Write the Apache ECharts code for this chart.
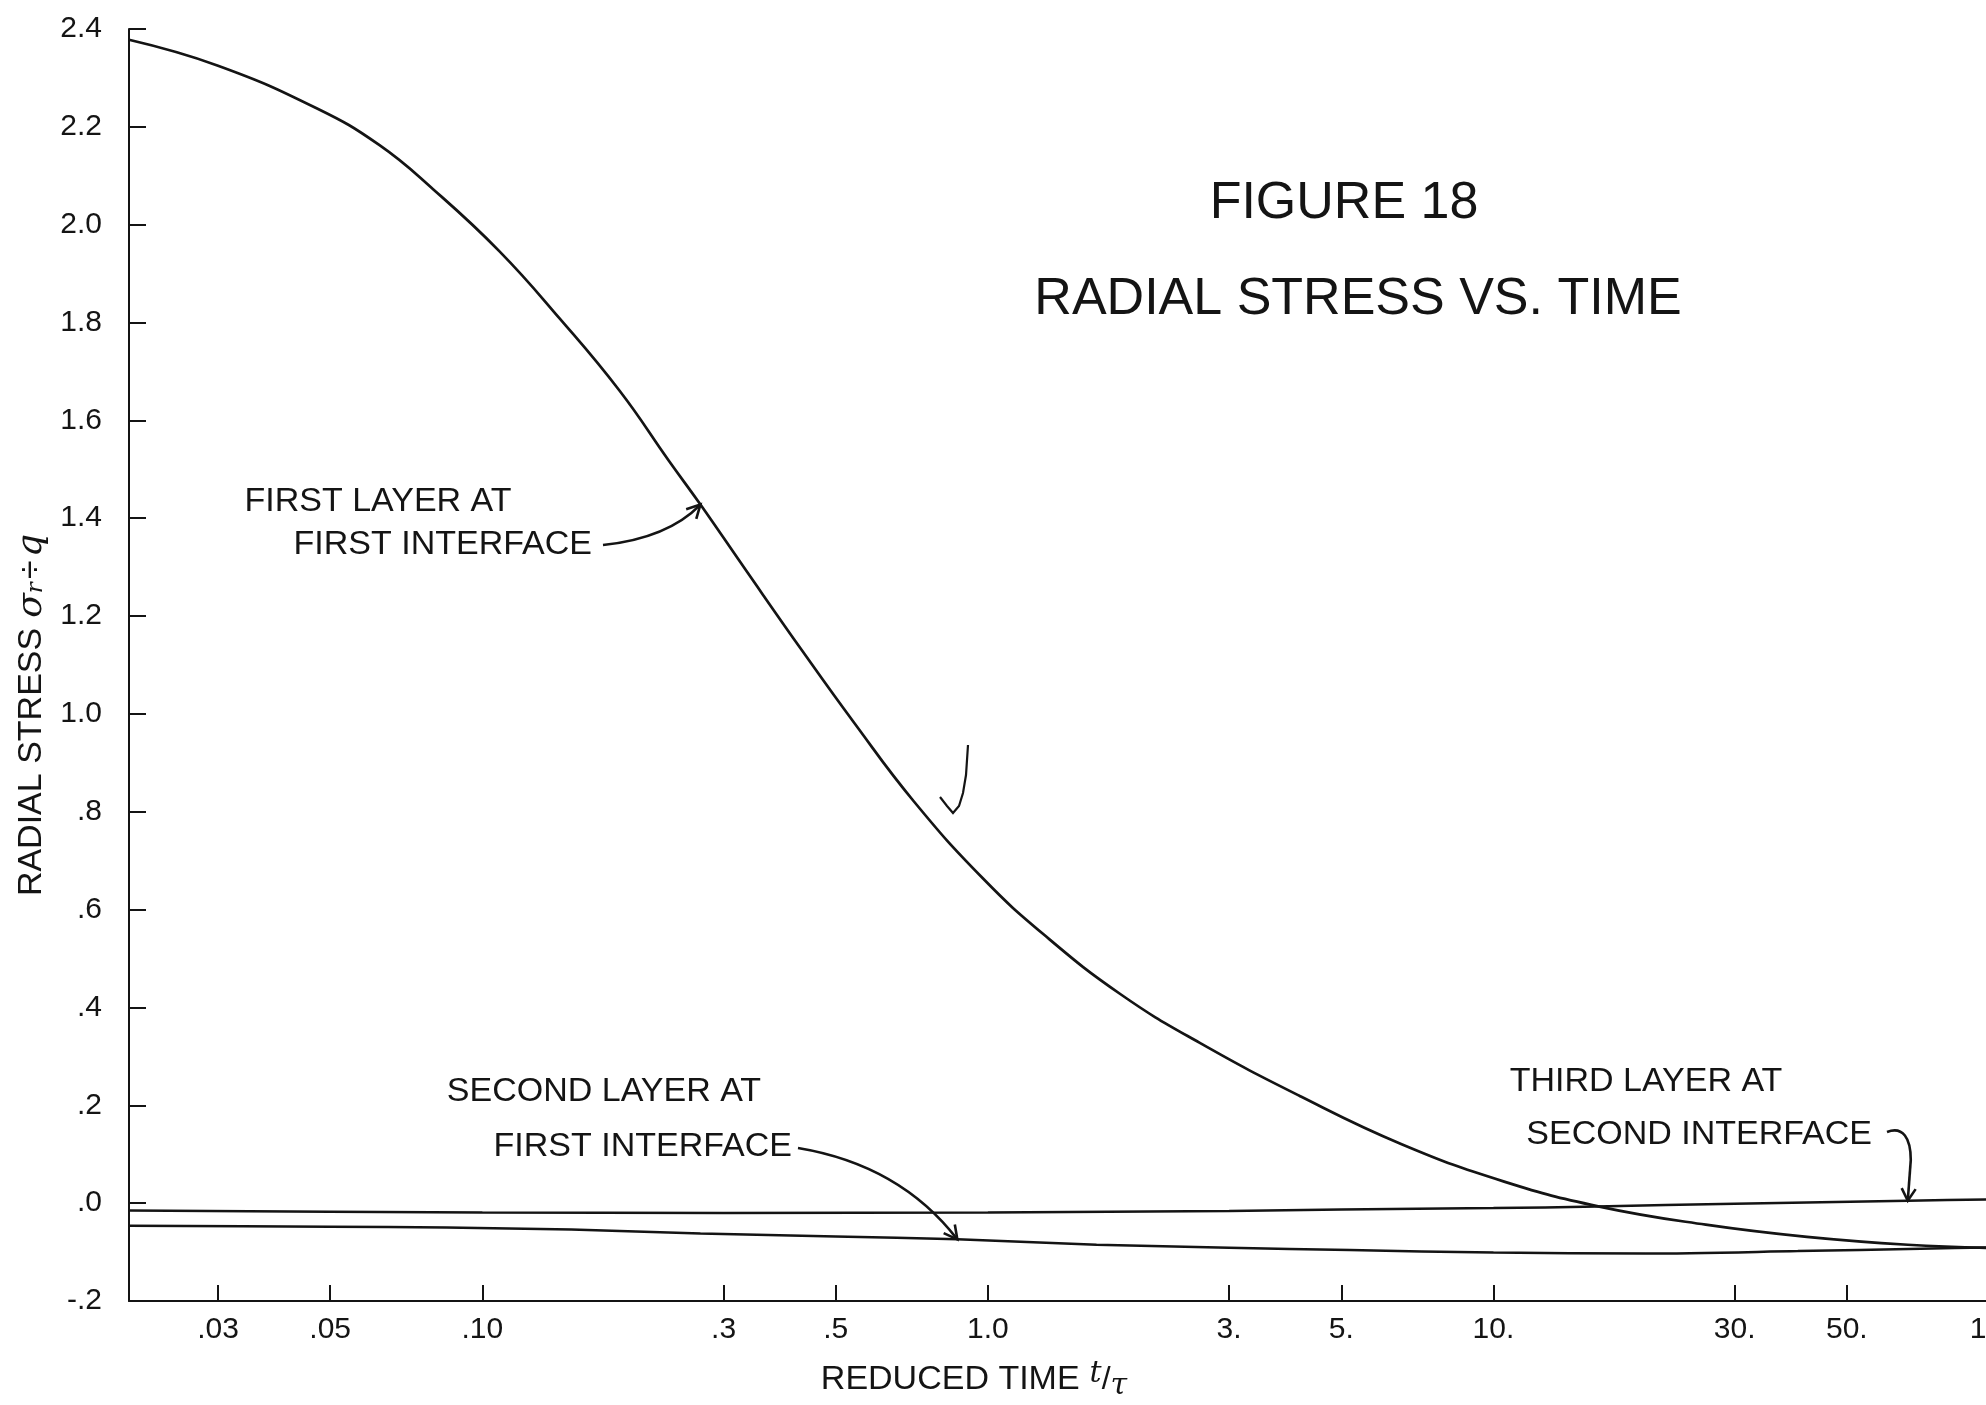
<!DOCTYPE html>
<html>
<head>
<meta charset="utf-8">
<script src="https://cdn.jsdelivr.net/npm/echarts@6/dist/echarts.min.js"></script>
<style>html,body{margin:0;padding:0;background:#fff}#c{width:1986px;height:1405px}</style>
</head>
<body>
<div id="c"></div>
<script>
// ---- data ----
const firstLayerT = [0.02, 0.03, 0.047, 0.0625, 0.08, 0.108, 0.142, 0.187, 0.234, 0.27, 0.333, 0.43, 0.541, 0.714, 0.977, 1.29, 1.83, 2.62, 4.16, 6.6, 10.5, 16.2, 26.3, 41.7, 66, 100];
const firstLayerS = [2.378, 2.325, 2.238, 2.163, 2.072, 1.946, 1.809, 1.660, 1.517, 1.428, 1.292, 1.128, 0.985, 0.821, 0.664, 0.549, 0.427, 0.328, 0.218, 0.120, 0.044, -0.007, -0.044, -0.069, -0.085, -0.092];

const secondLayerT = [0.02, 0.05, 0.085, 0.15, 0.27, 0.5, 0.87, 1.64, 3, 5.2, 10, 20, 40, 70, 100];
const secondLayerS = [-0.046, -0.048, -0.050, -0.054, -0.062, -0.068, -0.074, -0.085, -0.091, -0.096, -0.101, -0.103, -0.098, -0.093, -0.090];

const thirdLayerT = [0.02, 0.1, 0.3, 1, 3, 5, 10, 16, 30, 66, 100];
const thirdLayerS = [-0.015, -0.019, -0.020, -0.019, -0.016, -0.013, -0.010, -0.007, -0.001, 0.005, 0.008];

const xTicks = [0.03, 0.05, 0.1, 0.3, 0.5, 1, 3, 5, 10, 30, 50, 100];
const xTickLabels = ['.03', '.05', '.10', '.3', '.5', '1.0', '3.', '5.', '10.', '30.', '50.', '100.'];
const yTicks = [-0.2, 0, 0.2, 0.4, 0.6, 0.8, 1.0, 1.2, 1.4, 1.6, 1.8, 2.0, 2.2, 2.4];
const yTickLabels = ['-.2', '.0', '.2', '.4', '.6', '.8', '1.0', '1.2', '1.4', '1.6', '1.8', '2.0', '2.2', '2.4'];

// ---- styling ----
const ink = '#141414';
const fam = "'Liberation Sans', 'DejaVu Sans', Arial, sans-serif";
const serif = "'DejaVu Serif', 'Liberation Serif', serif";

const pairs = (ts, ss) => ts.map((t, i) => [t, ss[i]]);
const lookup = (ticks, labels) => v => {
  const i = ticks.findIndex(t => Math.abs(t - v) < 1e-6 * Math.max(1, Math.abs(t)));
  return i >= 0 ? labels[i] : '';
};

const option = {
  backgroundColor: '#ffffff',
  animation: false,
  title: [
    { text: 'FIGURE 18', left: 1344, top: 178, textAlign: 'center', padding: 0,
      textStyle: { fontFamily: fam, fontSize: 52, fontWeight: 'normal', color: ink } },
    { text: 'RADIAL STRESS VS. TIME', left: 1358, top: 274, textAlign: 'center', padding: 0,
      textStyle: { fontFamily: fam, fontSize: 52, fontWeight: 'normal', color: ink } }
  ],
  grid: { left: 129, right: -13, top: 29, bottom: 104, containLabel: false, outerBoundsMode: 'none' },
  xAxis: {
    type: 'log', logBase: 10, min: 0.02, max: 100,
    name: '{n|REDUCED TIME}   {t|t}{s|/}{u|τ}',
    nameLocation: 'middle', nameGap: 58,
    nameTextStyle: {
      padding: [0, 180, 0, 0],
      rich: {
        n: { fontFamily: fam, fontSize: 34, color: ink },
        t: { fontFamily: serif, fontStyle: 'italic', fontSize: 30, color: ink, padding: [0, 0, 12, 0] },
        s: { fontFamily: fam, fontSize: 32, color: ink },
        u: { fontFamily: serif, fontStyle: 'italic', fontSize: 30, color: ink, padding: [12, 0, 0, 0] }
      }
    },
    axisLine: { show: true, onZero: false, lineStyle: { color: ink, width: 2 } },
    axisTick: { show: true, inside: true, length: 16, customValues: xTicks, lineStyle: { color: ink, width: 2 } },
    axisLabel: { customValues: xTicks, formatter: lookup(xTicks, xTickLabels), margin: 14,
      fontFamily: fam, fontSize: 30, color: ink },
    splitLine: { show: false },
    minorTick: { show: false }
  },
  yAxis: {
    type: 'value', min: -0.2, max: 2.4, interval: 0.2,
    name: '{n|RADIAL STRESS}   {s|σ}{r|r} {n|÷} {s|q}',
    nameLocation: 'middle', nameRotate: 90, nameGap: 72,
    nameTextStyle: {
      padding: [0, 100, 0, 0],
      rich: {
        n: { fontFamily: fam, fontSize: 34, color: ink },
        s: { fontFamily: serif, fontStyle: 'italic', fontSize: 36, color: ink },
        r: { fontFamily: serif, fontStyle: 'italic', fontSize: 23, color: ink, padding: [10, 0, 0, 0] }
      }
    },
    axisLine: { show: true, onZero: false, lineStyle: { color: ink, width: 2 } },
    axisTick: { show: true, inside: true, length: 17, customValues: yTicks, lineStyle: { color: ink, width: 2 } },
    axisLabel: { customValues: yTicks, formatter: lookup(yTicks, yTickLabels), margin: 27,
      fontFamily: fam, fontSize: 30, color: ink },
    splitLine: { show: false }
  },
  series: [
    { name: 'First layer at first interface', type: 'line', data: pairs(firstLayerT, firstLayerS),
      smooth: 0.45, showSymbol: false, lineStyle: { color: ink, width: 2.7 }, z: 3 },
    { name: 'Second layer at first interface', type: 'line', data: pairs(secondLayerT, secondLayerS),
      smooth: 0.3, showSymbol: false, lineStyle: { color: ink, width: 2.5 }, z: 2 },
    { name: 'Third layer at second interface', type: 'line', data: pairs(thirdLayerT, thirdLayerS),
      smooth: 0.3, showSymbol: false, lineStyle: { color: ink, width: 2.5 }, z: 2 }
  ]
};

const chart = echarts.init(document.getElementById('c'), null, { renderer: 'canvas' });
chart.setOption(option);

// ---- annotations anchored to data points ----
const P = (t, s) => chart.convertToPixel({ gridIndex: 0 }, [t, s]);
function headPts(tip, from, len, ang) {
  const dx = tip[0] - from[0], dy = tip[1] - from[1];
  const L = Math.hypot(dx, dy), ux = dx / L, uy = dy / L;
  const pts = [ang, -ang].map(a => {
    const r = a * Math.PI / 180;
    const vx = ux * Math.cos(r) - uy * Math.sin(r);
    const vy = uy * Math.cos(r) + ux * Math.sin(r);
    return [tip[0] - len * vx, tip[1] - len * vy];
  });
  return [pts[0], [tip[0], tip[1]], pts[1]];
}
const tip1 = P(0.27, 1.428);
const tip2 = P(0.87, -0.074);
const tip3 = P(66, 0.005);
const c1 = [668, 538], s1 = [603, 545];
const c2 = [900, 1165], s2 = [798, 1148];
const s3 = [1887, 1132];
const a3c = [tip3[0] + 3, 1160];

const stroke = { stroke: ink, lineWidth: 2.6, fill: null };
const txt = (text, x, y, align) => ({
  type: 'text', silent: true,
  style: { text, x, y, align: align, verticalAlign: 'middle', font: `34px ${fam}`, fill: ink }
});
const quad = (s, c, e) => ({ type: 'bezierCurve', silent: true,
  shape: { x1: s[0], y1: s[1], cpx1: c[0], cpy1: c[1], x2: e[0], y2: e[1] }, style: stroke });
const poly = (pts, lw) => ({ type: 'polyline', silent: true, shape: { points: pts },
  style: { stroke: ink, lineWidth: lw || 2.6, fill: null } });

chart.setOption({
  graphic: [
    txt('FIRST LAYER AT', 378, 502, 'center'),
    txt('FIRST INTERFACE', 592, 545, 'right'),
    txt('SECOND LAYER AT', 604, 1092, 'center'),
    txt('FIRST INTERFACE', 792, 1147, 'right'),
    txt('THIRD LAYER AT', 1646, 1082, 'center'),
    txt('SECOND INTERFACE', 1872, 1135, 'right'),
    quad(s1, c1, tip1),
    poly(headPts(tip1, c1, 15, 28)),
    quad(s2, c2, tip2),
    poly(headPts(tip2, c2, 15, 28)),
    { type: 'bezierCurve', silent: true,
      shape: { x1: s3[0], y1: s3[1], cpx1: s3[0] + 16, cpy1: s3[1] - 6, cpx2: a3c[0], cpy2: s3[1] + 6, x2: a3c[0], y2: a3c[1] },
      style: stroke },
    poly([a3c, [tip3[0], tip3[1]]]),
    poly(headPts(tip3, a3c, 14, 30)),
    // small hand check mark
    poly([[940, 797], [947, 806], [953, 813], [959, 806], [963, 793], [966, 775], [968, 745]], 2.2)
  ]
});
</script>
</body>
</html>
